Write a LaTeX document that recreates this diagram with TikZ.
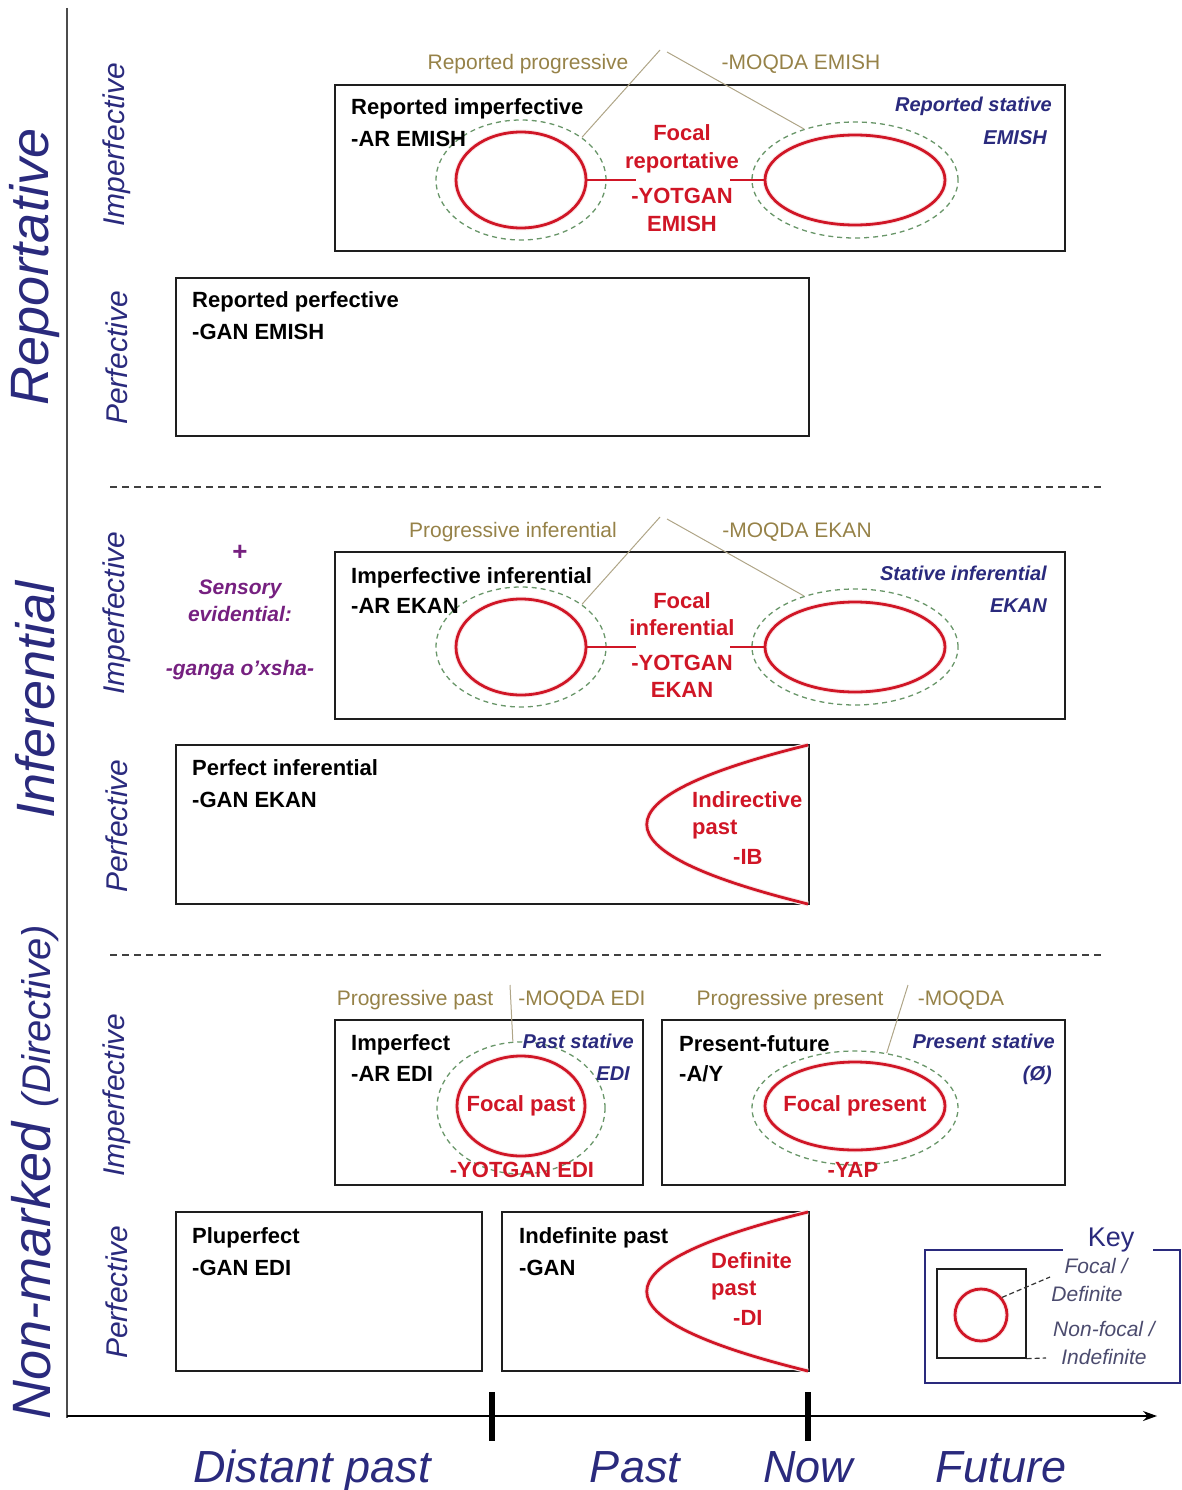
\documentclass[tikz,border=0pt]{standalone}
\usepackage{fontspec}
\setmainfont{Liberation Sans}
\usetikzlibrary{shapes.geometric,arrows.meta}

\definecolor{navyc}{RGB}{42,42,125}
\definecolor{redc}{RGB}{208,22,38}
\definecolor{tanc}{RGB}{150,130,72}
\definecolor{purplec}{RGB}{118,32,128}
\definecolor{greenc}{RGB}{105,150,105}
\definecolor{linkc}{RGB}{175,165,135}
\definecolor{keytxt}{RGB}{75,75,110}
\definecolor{framec}{RGB}{30,30,30}

\begin{document}
\begin{tikzpicture}[x=1pt,y=-1pt,
  frame/.style={draw=framec, line width=1.5pt, rectangle, inner sep=0pt},
  solidell/.style={ellipse, draw=redc, line width=2.8pt, inner sep=0pt,
    preaction={draw=redc!10, line width=5pt}},
  dashell/.style={ellipse, draw=greenc, line width=1.3pt, dash pattern=on 5pt off 4pt, inner sep=0pt},
  blk/.style={font=\fontsize{22}{26}\selectfont\bfseries, text=black, inner sep=0pt},
  rd/.style={font=\fontsize{22}{26}\selectfont\bfseries, text=redc, inner sep=0pt},
  tan/.style={font=\fontsize{21}{25}\selectfont, text=tanc, inner sep=0pt},
  nav/.style={font=\fontsize{20}{24}\selectfont\bfseries\itshape, text=navyc, inner sep=0pt},
  pur/.style={font=\fontsize{21}{25}\selectfont\bfseries\itshape, text=purplec, inner sep=0pt},
  big/.style={rotate=90, font=\fontsize{54}{60}\selectfont\itshape, text=navyc, inner sep=0pt},
  sub/.style={rotate=90, font=\fontsize{30}{34}\selectfont\itshape, text=navyc, inner sep=0pt},
  time/.style={font=\fontsize{45}{50}\selectfont\itshape, text=navyc, inner sep=0pt},
  keyt/.style={font=\fontsize{21}{25}\selectfont\itshape, text=keytxt, inner sep=0pt},
  link/.style={draw=linkc, line width=1pt},
  redlink/.style={draw=redc, line width=2pt},
  sep/.style={draw=black!75, line width=1.2pt, dash pattern=on 7pt off 5pt},
  parab/.style={draw=redc, line width=2.8pt, preaction={draw=redc!10, line width=5pt}}
]
\useasboundingbox (0,0) rectangle (1181,1490);

% ---------- axes ----------
\coordinate (vtop) at (67,8);
\coordinate (vbot) at (67,1418);
\coordinate (origin) at (67,1416);
\coordinate (tip) at (1157,1416);
\draw[draw=black!70, line width=2.5pt] (vtop) -- (vbot);
\draw[line width=1.5pt, -{Stealth[length=14pt,width=10pt]}] (origin) -- (tip);
\coordinate (tpa) at (492,1392); \coordinate (tpb) at (492,1441);
\coordinate (tna) at (808,1392); \coordinate (tnb) at (808,1441);
\draw[line width=6pt] (tpa) -- (tpb);
\draw[line width=6pt] (tna) -- (tnb);

\node[time, anchor=base] (tdist) at (312,1482) {Distant past};
\node[time, anchor=base] (tpast) at (635,1482) {Past};
\node[time, anchor=base] (tnow) at (808,1482) {Now};
\node[time, anchor=base] (tfut) at (1001,1482) {Future};

% ---------- row labels ----------
\node[big] (lrep) at (35,267) {Reportative};
\node[big] (linf) at (35,700) {Inferential};
\node[big] (lnon) at (35,1172) {Non-marked {\fontsize{40}{44}\selectfont(Directive)}};

\node[sub] (s1) at (117,145) {Imperfective};
\node[sub] (s2) at (117,358) {Perfective};
\node[sub] (s3) at (117,613) {Imperfective};
\node[sub] (s4) at (117,826) {Perfective};
\node[sub] (s5) at (117,1095) {Imperfective};
\node[sub] (s6) at (117,1292) {Perfective};

% separators
\coordinate (sepa1) at (110,487); \coordinate (sepb1) at (1105,487);
\coordinate (sepa2) at (110,955); \coordinate (sepb2) at (1105,955);
\draw[sep] (sepa1) -- (sepb1);
\draw[sep] (sepa2) -- (sepb2);

% ---------- boxes ----------
\node[frame, minimum width=730, minimum height=166] (b1) at (700,168) {};
\node[frame, minimum width=633, minimum height=158] (b2) at (492.5,357) {};
\node[frame, minimum width=730, minimum height=167] (b3) at (700,635.5) {};
\node[frame, minimum width=633, minimum height=159] (b4) at (492.5,824.5) {};
\node[frame, minimum width=308, minimum height=165] (b5) at (489,1102.5) {};
\node[frame, minimum width=403, minimum height=165] (b6) at (863.5,1102.5) {};
\node[frame, minimum width=306, minimum height=159] (b7) at (329,1291.5) {};
\node[frame, minimum width=307, minimum height=159] (b8) at (655.5,1291.5) {};

% ---------- reportative imperfective ----------
\node[dashell, minimum width=170, minimum height=120] (ld1) at (521,180) {};
\node[solidell, minimum width=130, minimum height=96] (ls1) at (521,180) {};
\node[dashell, minimum width=206, minimum height=116] (rd1) at (855,180) {};
\node[solidell, minimum width=180, minimum height=90] (rs1) at (855,180) {};
\coordinate (c1a) at (636,180); \coordinate (c1b) at (730,180);
\draw[redlink] (ls1.east) -- (c1a);
\draw[redlink] (c1b) -- (rs1.west);
\node[blk, anchor=base west] (t1a) at (351,115) {Reported imperfective};
\node[blk, anchor=base west] (t1b) at (351,147) {-AR EMISH};
\node[rd, anchor=base] (f1a) at (682,141) {Focal};
\node[rd, anchor=base] (f1b) at (682,168) {reportative};
\node[rd, anchor=base] (f1c) at (682,204) {-YOTGAN};
\node[rd, anchor=base] (f1d) at (682,231) {EMISH};
\node[nav, anchor=base east] (n1a) at (1052,112) {Reported stative};
\node[nav, anchor=base east] (n1b) at (1047,145) {EMISH};
\node[tan, anchor=base] (p1a) at (528,70) {Reported progressive};
\node[tan, anchor=base] (p1b) at (801,70) {-MOQDA EMISH};
\coordinate (apx1a) at (660,50); \coordinate (apx1b) at (667,52);
\draw[link] (ld1.35) -- (apx1a);
\draw[link] (apx1b) -- (rd1.135);

% ---------- reportative perfective ----------
\node[blk, anchor=base west] (t2a) at (192,307) {Reported perfective};
\node[blk, anchor=base west] (t2b) at (192,339) {-GAN EMISH};

% ---------- inferential imperfective ----------
\node[dashell, minimum width=170, minimum height=120] (ld2) at (521,647) {};
\node[solidell, minimum width=130, minimum height=96] (ls2) at (521,647) {};
\node[dashell, minimum width=206, minimum height=116] (rd2) at (855,647) {};
\node[solidell, minimum width=180, minimum height=90] (rs2) at (855,647) {};
\coordinate (c2a) at (636,647); \coordinate (c2b) at (730,647);
\draw[redlink] (ls2.east) -- (c2a);
\draw[redlink] (c2b) -- (rs2.west);
\node[blk, anchor=base west] (t3a) at (351,583) {Imperfective inferential};
\node[blk, anchor=base west] (t3b) at (351,613) {-AR EKAN};
\node[rd, anchor=base] (f2a) at (682,608) {Focal};
\node[rd, anchor=base] (f2b) at (682,635) {inferential};
\node[rd, anchor=base] (f2c) at (682,670) {-YOTGAN};
\node[rd, anchor=base] (f2d) at (682,697) {EKAN};
\node[nav, anchor=base east] (n2a) at (1047,580) {Stative inferential};
\node[nav, anchor=base east] (n2b) at (1047,612) {EKAN};
\node[tan, anchor=base] (p2a) at (513,537) {Progressive inferential};
\node[tan, anchor=base] (p2b) at (797,537) {-MOQDA EKAN};
\coordinate (apx2a) at (660,517); \coordinate (apx2b) at (667,519);
\draw[link] (ld2.35) -- (apx2a);
\draw[link] (apx2b) -- (rd2.135);

\node[pur, anchor=center, font=\fontsize{26}{30}\selectfont\bfseries] (pplus) at (240,553) {+};
\node[pur, anchor=base] (pa) at (240,594) {Sensory};
\node[pur, anchor=base] (pb) at (240,621) {evidential:};
\node[pur, anchor=base] (pc) at (240,675) {-ganga o’xsha-};

% ---------- inferential perfective ----------
\node[blk, anchor=base west] (t4a) at (192,775) {Perfect inferential};
\node[blk, anchor=base west] (t4b) at (192,807) {-GAN EKAN};
\coordinate (pa1) at (808,745); \coordinate (pa2) at (808,904);
\draw[parab] (pa1) .. controls (593,798) and (593,851) .. (pa2);
\node[rd, anchor=base west] (i1) at (692,807) {Indirective};
\node[rd, anchor=base west] (i2) at (692,834) {past};
\node[rd, anchor=base west] (i3) at (733,864) {-IB};

% ---------- non-marked imperfective ----------
\node[dashell, minimum width=168, minimum height=132] (ld3) at (521,1108) {};
\node[solidell, minimum width=128, minimum height=100] (fpast) at (521,1106) {};
\node[rd] (fpastt) at (fpast.center) {Focal past};
\node[dashell, minimum width=206, minimum height=114] (rd3) at (855,1108) {};
\node[solidell, minimum width=180, minimum height=88] (fpres) at (855,1106) {};
\node[rd] (fprest) at (fpres.center) {Focal present};
\node[blk, anchor=base west] (t5a) at (351,1050) {Imperfect};
\node[blk, anchor=base west] (t5b) at (351,1081) {-AR EDI};
\node[nav, anchor=base east] (n5a) at (634,1048) {Past stative};
\node[nav, anchor=base east] (n5b) at (630,1080) {EDI};
\node[rd, anchor=base] (y5) at (522,1177) {-YOTGAN EDI};
\node[blk, anchor=base west] (t6a) at (679,1051) {Present-future};
\node[blk, anchor=base west] (t6b) at (679,1081) {-A/Y};
\node[nav, anchor=base east] (n6a) at (1055,1048) {Present stative};
\node[nav, anchor=base east] (n6b) at (1052,1080) {(Ø)};
\node[rd, anchor=base] (y6) at (853,1177) {-YAP};
\node[tan, anchor=base] (p3a) at (415,1005) {Progressive past};
\node[tan, anchor=base] (p3b) at (582,1005) {-MOQDA EDI};
\node[tan, anchor=base] (p4a) at (790,1005) {Progressive present};
\node[tan, anchor=base] (p4b) at (961,1005) {-MOQDA};
\coordinate (l3top) at (510,985);
\coordinate (l4top) at (908,985);
\draw[link] (l3top) -- (ld3.97);
\draw[link] (l4top) -- (rd3.60);

% ---------- non-marked perfective ----------
\node[blk, anchor=base west] (t7a) at (192,1243) {Pluperfect};
\node[blk, anchor=base west] (t7b) at (192,1275) {-GAN EDI};
\node[blk, anchor=base west] (t8a) at (519,1243) {Indefinite past};
\node[blk, anchor=base west] (t8b) at (519,1275) {-GAN};
\coordinate (pb1) at (808,1212); \coordinate (pb2) at (808,1371);
\draw[parab] (pb1) .. controls (593,1265) and (593,1318) .. (pb2);
\node[rd, anchor=base west] (d1) at (711,1268) {Definite};
\node[rd, anchor=base west] (d2) at (711,1295) {past};
\node[rd, anchor=base west] (d3) at (733,1325) {-DI};

% ---------- key ----------
\coordinate (k1) at (1063,1250); \coordinate (k2) at (925,1250);
\coordinate (k3) at (925,1383); \coordinate (k4) at (1180,1383);
\coordinate (k5) at (1180,1250); \coordinate (k6) at (1153,1250);
\draw[draw=navyc, line width=1.5pt] (k1) -- (k2) -- (k3) -- (k4) -- (k5) -- (k6);
\node[font=\fontsize{27}{30}\selectfont, text=navyc, anchor=base, inner sep=0pt] (key) at (1111,1246) {Key};
\node[frame, line width=1.3pt, minimum width=89, minimum height=89] (kin) at (981.5,1313.5) {};
\node[circle, draw=redc, line width=2.8pt, minimum size=52, inner sep=0pt,
      preaction={draw=redc!10, line width=5pt}] (kc) at (981,1315) {};
\coordinate (kd1) at (1050,1277);
\coordinate (kd2) at (1046,1358);
\draw[draw=black!80, line width=1.2pt, dash pattern=on 5pt off 3pt] (kc.40) -- (kd1);
\draw[draw=black!80, line width=1.2pt, dash pattern=on 5pt off 3pt] (kin.south east) -- (kd2);
\node[keyt, anchor=base] (kt1) at (1096,1273) {Focal /};
\node[keyt, anchor=base] (kt2) at (1087,1301) {Definite};
\node[keyt, anchor=base] (kt3) at (1104,1336) {Non-focal /};
\node[keyt, anchor=base] (kt4) at (1104,1364) {Indefinite};
\end{tikzpicture}
\end{document}
